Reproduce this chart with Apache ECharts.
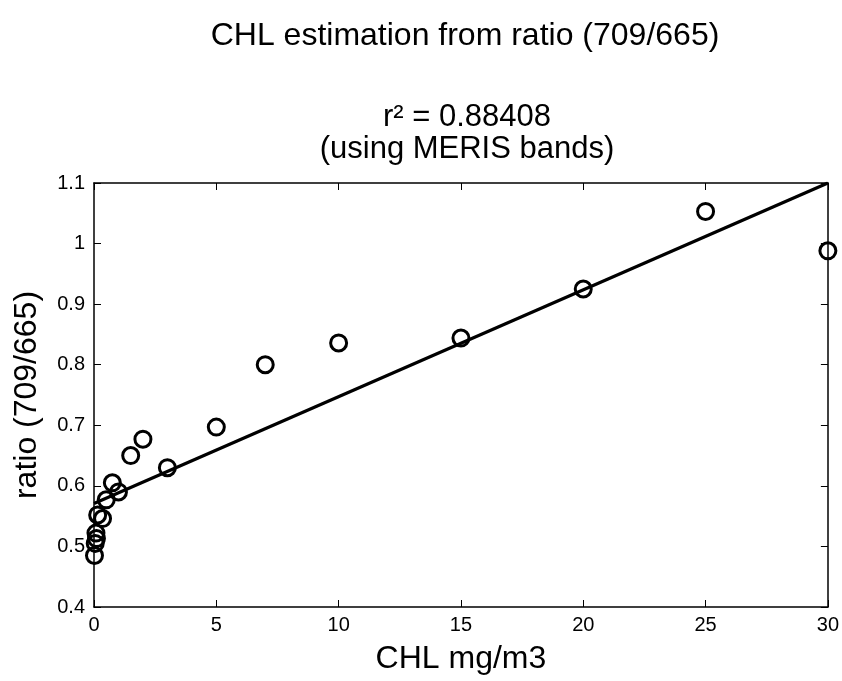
<!DOCTYPE html>
<html><head><meta charset="utf-8">
<script src="https://cdn.jsdelivr.net/npm/echarts@6/dist/echarts.min.js"></script>
<style>html,body{margin:0;padding:0;background:#fff}#c{width:842px;height:681px}</style>
</head><body><div id="c"></div>
<script>
var chl   = [0.02, 0.05, 0.1, 0.08, 0.15, 0.35, 0.5, 0.75, 1, 1.5, 2, 3, 5, 7, 10, 15, 20, 25, 30];
var ratio = [0.485, 0.505, 0.513, 0.522, 0.552, 0.546, 0.577, 0.605, 0.590, 0.650, 0.677, 0.630, 0.697, 0.800, 0.836, 0.844, 0.925, 1.053, 0.988];
var fitX = [0, 30];
var fitY = [0.571, 1.1];
var xTicks = [0, 5, 10, 15, 20, 25, 30];
var yTicks = [0.4, 0.5, 0.6, 0.7, 0.8, 0.9, 1, 1.1];

var font = "'Liberation Sans', Arial, sans-serif";
var chart = echarts.init(document.getElementById('c'), null, {renderer: 'canvas'});
var axisCommon = {
  axisLine: {show: true, onZero: false, lineStyle: {color: '#000', width: 1.5}},
  axisTick: {show: true, inside: true, length: 7, lineStyle: {color: '#000', width: 1}},
  splitLine: {show: false}
};
chart.setOption({
  animation: false,
  backgroundColor: '#fff',
  title: [
    {text: 'CHL estimation from ratio (709/665)', left: 460, textAlign: 'center', top: 14,
     textStyle: {fontFamily: font, fontSize: 32, fontWeight: 'normal', color: '#000', lineHeight: 34}},
    {text: 'r\u00b2 = 0.88408\n(using MERIS bands)', left: 462, textAlign: 'center', top: 96,
     textStyle: {fontFamily: font, fontSize: 31, fontWeight: 'normal', color: '#000', lineHeight: 32}}
  ],
  grid: {left: 94, right: 13, top: 183, bottom: 74, containLabel: false},
  xAxis: [
    Object.assign({type: 'value', min: 0, max: 30, interval: 5, position: 'bottom',
      name: 'CHL mg/m3', nameLocation: 'middle', nameGap: 36,
      nameTextStyle: {fontFamily: font, fontSize: 32, color: '#000', lineHeight: 32},
      axisLabel: {fontFamily: font, fontSize: 20, color: '#000', margin: 8}}, axisCommon),
    Object.assign({type: 'value', min: 0, max: 30, interval: 5, position: 'top',
      axisLabel: {show: false}}, axisCommon)
  ],
  yAxis: [
    Object.assign({type: 'value', min: 0.4, max: 1.1, interval: 0.1, position: 'left',
      name: 'ratio (709/665)', nameLocation: 'middle', nameGap: 51, nameRotate: 90,
      nameTextStyle: {fontFamily: font, fontSize: 32, color: '#000', lineHeight: 32},
      axisLabel: {fontFamily: font, fontSize: 20, color: '#000', margin: 9,
        formatter: function (v) { return String(Math.round(v * 10) / 10); }}}, axisCommon),
    Object.assign({type: 'value', min: 0.4, max: 1.1, interval: 0.1, position: 'right',
      axisLabel: {show: false}}, axisCommon)
  ],
  series: [
    {type: 'line', data: fitX.map(function (x, i) { return [x, fitY[i]]; }),
     symbol: 'none', lineStyle: {color: '#000', width: 3.2}, z: 2},
    {type: 'scatter', data: chl.map(function (x, i) { return [x, ratio[i]]; }),
     symbol: 'circle', symbolSize: 16,
     itemStyle: {color: 'rgba(0,0,0,0)', borderColor: '#000', borderWidth: 3, opacity: 1}, z: 3}
  ]
});
</script></body></html>
